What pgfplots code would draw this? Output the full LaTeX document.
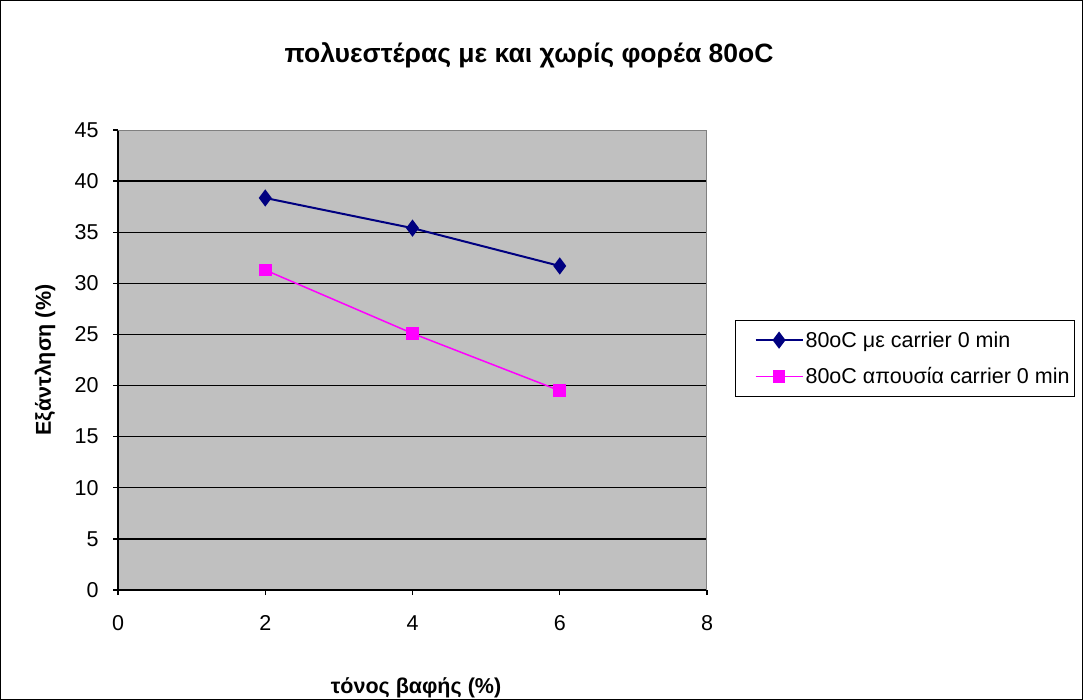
\documentclass[border=0pt]{standalone}
\usepackage{fontspec}
\setmainfont{Liberation Sans}
\usepackage{pgfplots}
\pgfplotsset{compat=1.18}
\definecolor{plotgray}{RGB}{192,192,192}
\definecolor{navyblue}{RGB}{0,0,128}
\definecolor{magentaP}{RGB}{255,0,255}
\begin{document}
\begin{tikzpicture}
\useasboundingbox (0,0) rectangle (1083pt,-700pt);
\draw[black,line width=1pt] (0.5pt,-0.5pt) rectangle (1082.5pt,-699.5pt);
\node[font=\bfseries\fontsize{26.5}{30}\selectfont] at (529pt,-55pt) {πολυεστέρας με και χωρίς φορέα 80oC};
\begin{axis}[
 at={(118pt,-590pt)}, anchor=south west,
 width=589pt, height=460pt, scale only axis,
 xmin=0, xmax=8, ymin=0, ymax=45,
 xtick={0,2,4,6,8}, ytick={0,5,...,40},
 extra y ticks={45}, extra y tick style={grid=none},
 axis background/.style={fill=plotgray},
 ymajorgrids, grid style={black,line width=1.3pt},
 axis x line*=bottom, axis y line*=left,
 axis line style={-, black, line width=1.3pt},
 tick align=outside, major tick length=5pt,
 tick style={black, line width=1.3pt},
 /pgf/number format/assume math mode=true,
 tick label style={font=\fontsize{21.5}{25}\selectfont},
 yticklabel style={xshift=-11pt},
 xticklabel style={yshift=-17pt},
 xlabel={\textbf{τόνος βαφής (\%)}},
 ylabel={\textbf{Εξάντληση (\%)}},
 xlabel style={at={(axis description cs:0.506,-0.213)}, anchor=center},
 ylabel style={at={(axis description cs:-0.124,0.5)}, anchor=center},
 label style={font=\fontsize{21.5}{25}\selectfont},
 legend style={at={(axis description cs:1.0475,0.587)}, anchor=north west,
   draw=black, line width=1.2pt, fill=white, font=\fontsize{21.5}{25}\selectfont,
   row sep=15pt, inner xsep=3pt, inner ysep=9pt},
 legend cell align=left,
 legend image code/.code={\path (0pt,0pt); \draw[mark repeat=2,mark phase=2] plot coordinates {(16pt,0pt)(39.5pt,0pt)(63pt,0pt)};},
]
\addplot[navyblue, line width=2pt, mark=diamond*, mark size=7pt, mark options={solid,fill=navyblue},
  legend image post style={line width=2pt}]
 coordinates {(2,38.35) (4,35.4) (6,31.7)};
\addlegendentry{80oC με carrier 0 min}
\addplot[magentaP, line width=1.5pt, mark=square*, mark size=5.5pt, mark options={solid,fill=magentaP},
  legend image post style={line width=1.5pt}]
 coordinates {(2,31.3) (4,25.1) (6,19.5)};
\addlegendentry{80oC απουσία carrier 0 min}
\draw[gray, line width=1pt] (rel axis cs:0,1) -- (rel axis cs:1,1) -- (rel axis cs:1,0);
\end{axis}
\end{tikzpicture}
\end{document}
